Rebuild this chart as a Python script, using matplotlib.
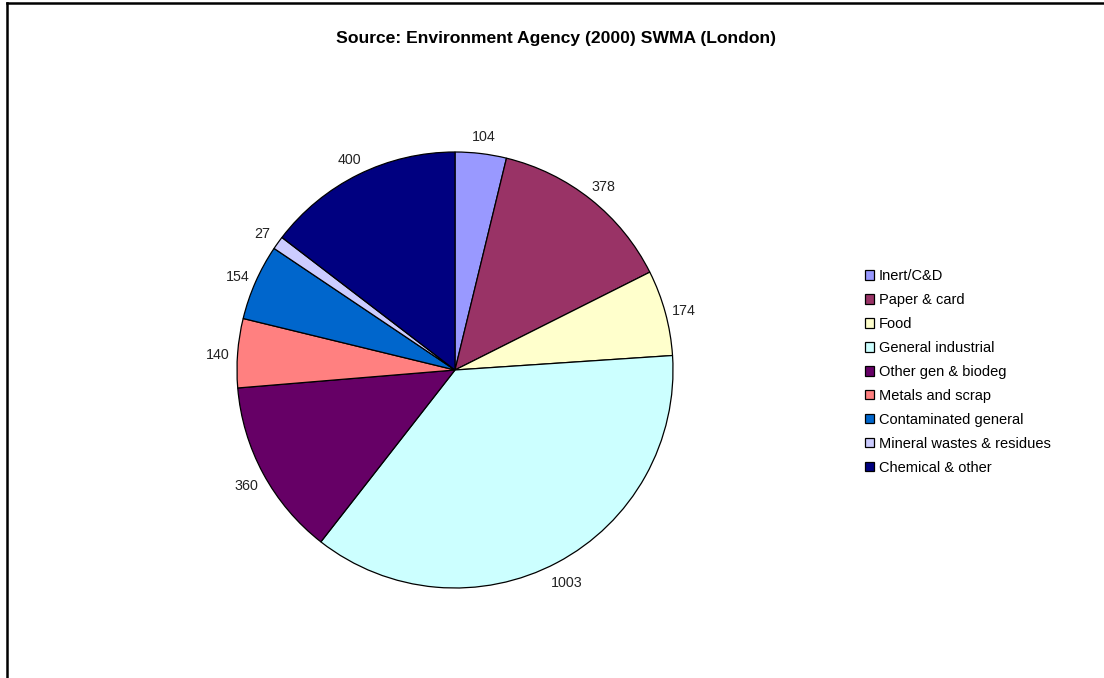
import matplotlib
matplotlib.use("Agg")
import matplotlib.pyplot as plt
from matplotlib.lines import Line2D

plt.rcParams['font.family'] = ['Liberation Sans', 'DejaVu Sans']

categories = ["Inert/C&D", "Paper & card", "Food", "General industrial",
              "Other gen & biodeg", "Metals and scrap", "Contaminated general",
              "Mineral wastes & residues", "Chemical & other"]
values = [104, 378, 174, 1003, 360, 140, 154, 27, 400]
colors = ["#9999FF", "#993366", "#FFFFCC", "#CCFFFF", "#660066",
          "#FF8080", "#0066CC", "#CCCCFF", "#000080"]
title = "Source: Environment Agency (2000) SWMA (London)"

W, H = 1104, 678
fig = plt.figure(figsize=(W / 100, H / 100), dpi=100)

# pie axes: centre (455, 370) px, radius 218 px
cx, cy, r = 455, 370, 218
ax = fig.add_axes([(cx - r) / W, (H - cy - r) / H, 2 * r / W, 2 * r / H])
wedges, texts = ax.pie(values, colors=colors, labels=[str(v) for v in values],
                       startangle=90, counterclock=False, radius=1,
                       labeldistance=1.09,
                       wedgeprops=dict(edgecolor="black", linewidth=0.9),
                       textprops=dict(fontsize=10.3, color="#222222"))
for t in texts:
    x, y = t.get_position()
    t.set_position((x, y - 0.014))
    t.set_horizontalalignment("center")
    t.set_verticalalignment("center")
ax.set_xlim(-1, 1)
ax.set_ylim(-1, 1)
ax.axis("off")

fig.text(556 / W, 1 - 38 / H, title, ha="center", va="center",
         fontsize=12.6, fontweight="bold")

fig.legend(wedges, categories, loc="upper left",
           bbox_to_anchor=(858 / W, 1 - 262 / H), frameon=False,
           fontsize=10.5, handlelength=0.62, handleheight=0.62,
           handletextpad=0.3, labelspacing=0.68, borderpad=0)

# chart border (top and left edges)
fig.add_artist(Line2D([7 / W, 1], [1 - 3 / H, 1 - 3 / H], color="black",
                      linewidth=1.8, transform=fig.transFigure))
fig.add_artist(Line2D([7 / W, 7 / W], [0, 1 - 3 / H], color="black",
                      linewidth=1.8, transform=fig.transFigure))

fig.savefig("out.png", dpi=100)
